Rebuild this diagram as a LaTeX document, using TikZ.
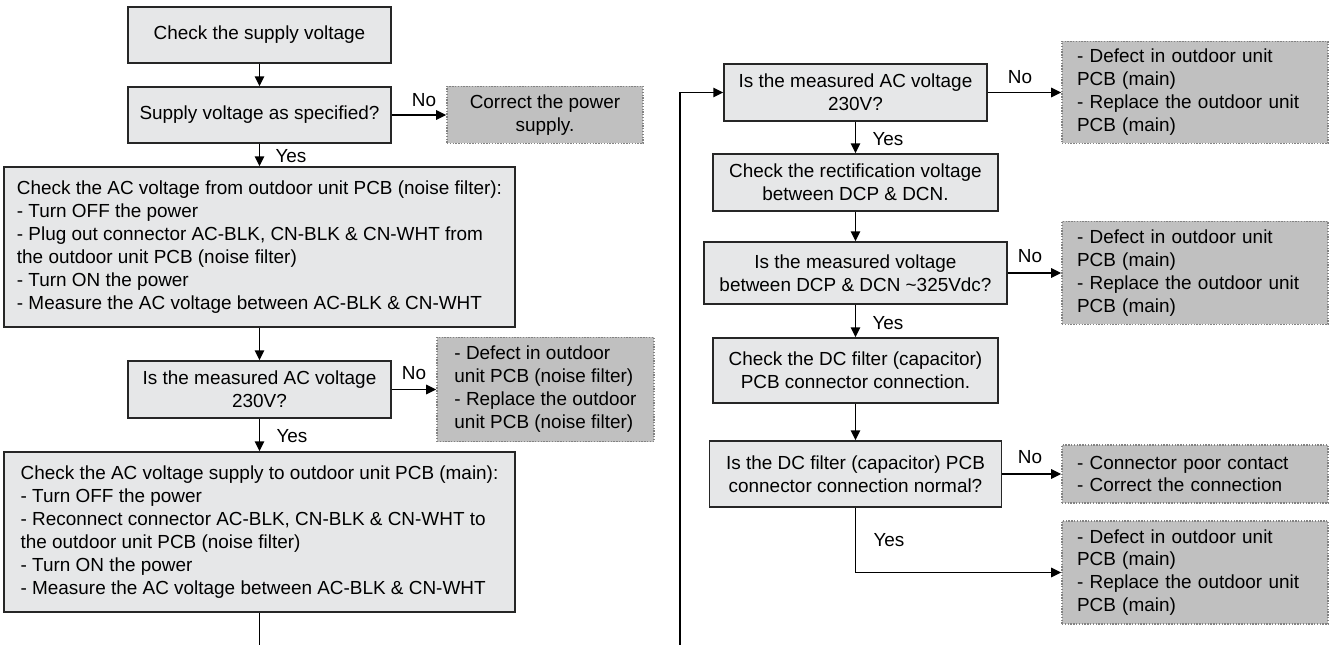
\documentclass[tikz,border=0pt]{standalone}
\usepackage{fontspec}
\setmainfont{Liberation Sans}
\usetikzlibrary{arrows.meta}
\definecolor{boxgray}{RGB}{230,231,232}
\definecolor{notegray}{RGB}{192,192,192}
\definecolor{dotgray}{RGB}{130,130,130}
\newcommand{\fcfont}{\fontsize{14.2}{17.2}\selectfont}
\begin{document}
\begin{tikzpicture}[x=0.75pt,y=-0.75pt,
  box/.style={draw=black!85, line width=1pt, fill=boxgray, inner sep=0pt, font=\fcfont, align=center},
  note/.style={draw=dotgray, line width=1.2pt, dash pattern=on 1pt off 1.1pt, fill=notegray, inner sep=0pt, font=\fcfont},
  rnote/.style={note, text width=177pt, minimum width=199.5pt, align=left},
  arr/.style={line width=1.3pt, -{Triangle[length=7.5pt,width=7pt]}},
  plain/.style={line width=1.3pt},
  lbl/.style={font=\fcfont, inner sep=0pt}]
\fill[white] (0,0) rectangle (1336,645);
\useasboundingbox (0,0) rectangle (1336,645);

% left column
\node[box, minimum width=197.25pt, minimum height=42pt] (b1) at (259.5,35) {Check the supply voltage};
\node[box, minimum width=197.25pt, minimum height=42pt] (b2) at (259.5,115) {Supply voltage as specified?};
\node[note, minimum width=147pt, minimum height=42.75pt, align=center] (d1) at (545,115) {Correct the power\\supply.};
\node[box, minimum width=383.25pt, minimum height=120pt, align=left] (b3) at (259.5,247) {Check the AC voltage from outdoor unit PCB (noise filter):\\- Turn OFF the power\\- Plug out connector AC-BLK, CN-BLK \& CN-WHT from\\the outdoor unit PCB (noise filter)\\- Turn ON the power\\- Measure the AC voltage between AC-BLK \& CN-WHT};
\node[box, minimum width=197.25pt, minimum height=42.75pt] (b4) at (259.5,389.5) {Is the measured AC voltage\\230V?};
\node[note, minimum width=162.75pt, minimum height=78pt, align=left] (d2) at (545.5,389.5) {- Defect in outdoor\\unit PCB (noise filter)\\- Replace the outdoor\\unit PCB (noise filter)};
\node[box, minimum width=383.25pt, minimum height=120pt, align=left] (b5) at (259.5,532) {Check the AC voltage supply to outdoor unit PCB (main):\\- Turn OFF the power\\- Reconnect connector AC-BLK, CN-BLK \& CN-WHT to\\the outdoor unit PCB (noise filter)\\- Turn ON the power\\- Measure the AC voltage between AC-BLK \& CN-WHT};
\coordinate (bb) at (259.5,645);

% right column
\node[box, minimum width=197.25pt, minimum height=42.75pt] (r1) at (855.5,92.5) {Is the measured AC voltage\\230V?};
\node[rnote, minimum height=76.5pt] (n1) at (1195,92.5) {- Defect in outdoor unit\\PCB (main)\\- Replace the outdoor unit\\PCB (main)};
\node[box, minimum width=213.75pt, minimum height=42.75pt] (r2) at (855.5,182.5) {Check the rectification voltage\\between DCP \& DCN.};
\node[box, minimum width=227.25pt, minimum height=46.5pt] (r3) at (855.5,273) {Is the measured voltage\\between DCP \& DCN \textasciitilde325Vdc?};
\node[rnote, minimum height=77.25pt] (n2) at (1195,273) {- Defect in outdoor unit\\PCB (main)\\- Replace the outdoor unit\\PCB (main)};
\node[box, minimum width=213.75pt, minimum height=48.75pt] (r4) at (855.5,370.5) {Check the DC filter (capacitor)\\PCB connector connection.};
\node[box, minimum width=219pt, minimum height=49.5pt] (r5) at (855.5,474) {Is the DC filter (capacitor) PCB\\connector connection normal?};
\node[rnote, minimum height=43.5pt] (n3) at (1195,474) {- Connector poor contact\\- Correct the connection};
\node[rnote, minimum height=77.25pt] (n4) at (1195,572.5) {- Defect in outdoor unit\\PCB (main)\\- Replace the outdoor unit\\PCB (main)};
\coordinate (lb) at (680,645);

% connectors left
\draw[arr] (b1) -- (b2);
\draw[arr] (b2) -- (d1);
\draw[arr] (b2) -- (b3);
\draw[arr] (b3) -- (b4);
\draw[arr] (b4) -- (d2);
\draw[arr] (b4) -- (b5);
\draw[plain] (b5) -- (bb);

% connectors right
\draw[arr] (lb) |- (r1);
\draw[arr] (r1) -- (n1);
\draw[arr] (r1) -- (r2);
\draw[arr] (r2) -- (r3);
\draw[arr] (r3) -- (n2);
\draw[arr] (r3) -- (r4);
\draw[arr] (r4) -- (r5);
\draw[arr] (r5) -- (n3);
\draw[arr] (r5) |- (n4);

% labels
\node[lbl] (no1) at (424,100) {No};
\node[lbl] (yes1) at (291,156) {Yes};
\node[lbl] (no2) at (414,373) {No};
\node[lbl] (yes2) at (292,436) {Yes};
\node[lbl] (no3) at (1020,77) {No};
\node[lbl] (yes3) at (888,139) {Yes};
\node[lbl] (no4) at (1030,256) {No};
\node[lbl] (yes4) at (888,323) {Yes};
\node[lbl] (no5) at (1030,457) {No};
\node[lbl] (yes5) at (889,540) {Yes};
\end{tikzpicture}
\end{document}
